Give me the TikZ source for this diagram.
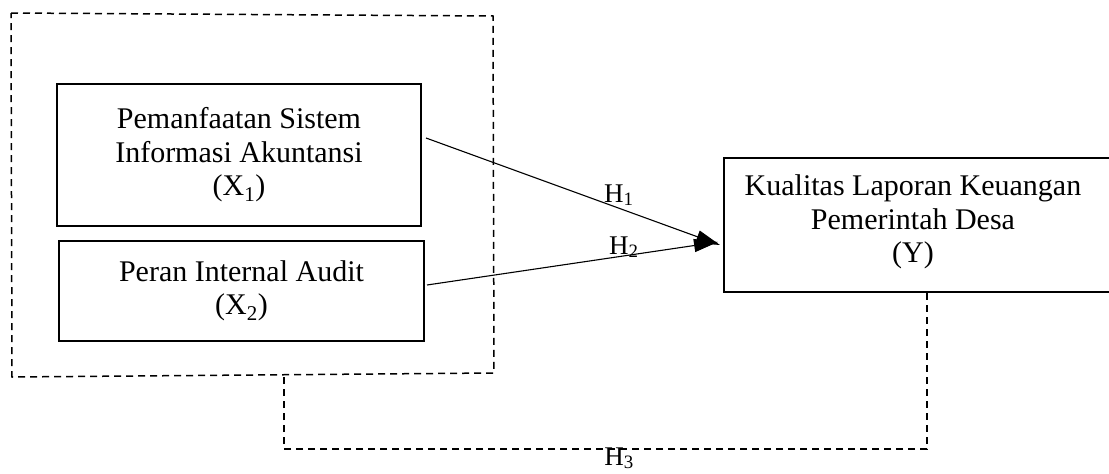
\documentclass[tikz,border=0pt]{standalone}
\usepackage{fontspec}
\setmainfont{Liberation Serif}
\usetikzlibrary{arrows.meta}
\tikzset{
  varbox/.style={draw, line width=2pt, inner sep=0pt, align=center,
                 font=\fontsize{30}{33.5}\selectfont},
  boxtext/.style={inner sep=0pt, align=center, font=\fontsize{30}{33.5}\selectfont},
  link/.style={line width=1.1pt, -{Triangle[length=24pt,width=13pt]}},
  grouping/.style={line width=1.5pt, dash pattern=on 7pt off 5pt},
  hyp/.style={inner sep=0pt, anchor=base west, font=\fontsize{27}{30}\selectfont}
}
\begin{document}
\begin{tikzpicture}[x=1pt,y=-1pt]
\useasboundingbox (0,0) rectangle (1109,474);
\clip (0,0) rectangle (1109,474);

% independent variables
\node[varbox, minimum width=364pt, minimum height=142pt] (x1) at (239,155)
  {Pemanfaatan Sistem\\Informasi Akuntansi\\(X\textsubscript{1})};
\node[varbox, minimum width=365pt, minimum height=100pt] (x2) at (241.5,291)
  {Peran Internal Audit\\(X\textsubscript{2})};

% dependent variable (box runs off the right edge)
\node[varbox, minimum width=390pt, minimum height=134pt] (y) at (919,225) {};
\node[boxtext] (ytext) at (913,222)
  {Kualitas Laporan Keuangan\\Pemerintah Desa\\(Y)};

% dashed frame around both independent variables
\coordinate (g-tl) at (11,13);
\coordinate (g-tr) at (493,16);
\coordinate (g-br) at (494,373);
\coordinate (g-bl) at (12,377);
\draw[grouping] (g-tl) -- (g-tr) -- (g-br) -- (g-bl) -- cycle;
\coordinate (g-s) at (284,374.7);

% partial effects
\draw[link] ([xshift=4pt,yshift=17pt]x1.east) -- ([xshift=-3pt,yshift=-20pt]y.west);
\draw[link] ([xshift=2pt,yshift=6pt]x2.east) -- ([xshift=-5pt,yshift=-17pt]y.west);

% simultaneous effect
\draw[grouping] ([xshift=8pt]y.south) -- ++(0,156) -| (g-s);

% hypothesis labels
\node[hyp] (h1) at (604,202) {H\textsubscript{1}};
\node[hyp] (h2) at (609,254) {H\textsubscript{2}};
\node[hyp, anchor=base] (h3) at (619,465) {H\textsubscript{3}};
\end{tikzpicture}
\end{document}
